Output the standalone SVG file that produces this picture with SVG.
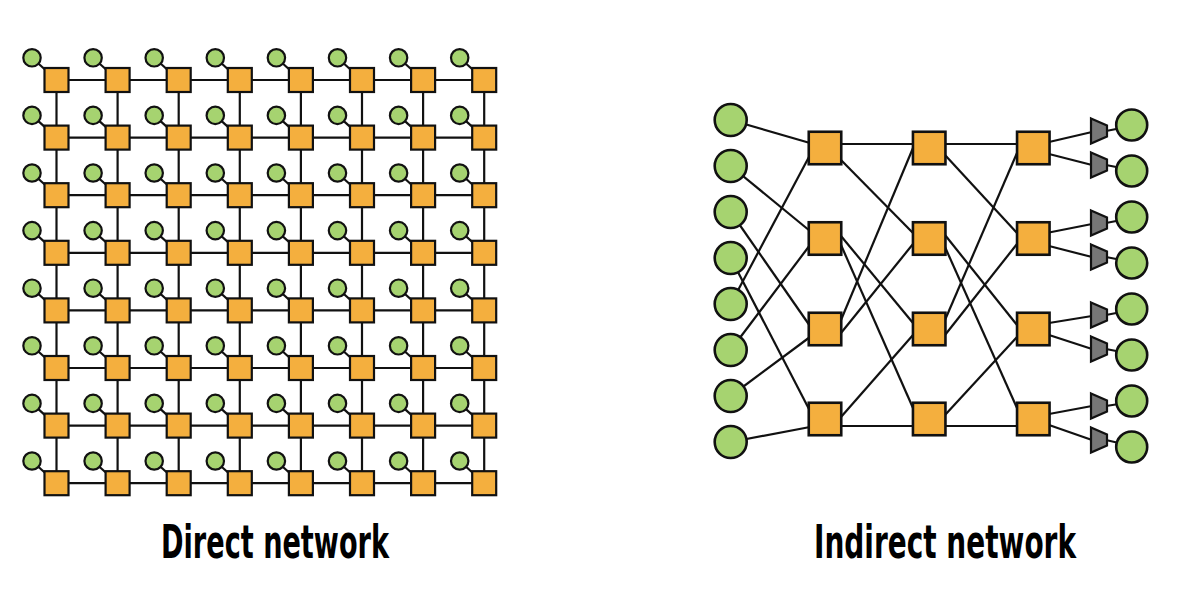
<svg xmlns="http://www.w3.org/2000/svg" xmlns:xlink="http://www.w3.org/1999/xlink" width="1188" height="596" viewBox="0 0 1188 596">
<style>
.ln{stroke:#111;stroke-width:2.2;fill:none}
.sq{fill:#F4AF3E;stroke:#111;stroke-width:2.2}
.pc{fill:#A6D370;stroke:#111;stroke-width:2.2}
.sw{fill:#F4AF3E;stroke:#111;stroke-width:2.6}
.ci{fill:#A6D370;stroke:#111;stroke-width:2.6}
.tr{fill:#777;stroke:#111;stroke-width:2.2}
.lbl{font-family:"Liberation Sans Narrow","DejaVu Sans Condensed","Liberation Sans",sans-serif;font-weight:bold;font-size:47px;fill:#000}
</style>
<defs>
<g id="dn">
<line class="ln" x1="-24.5" y1="-22.2" x2="0" y2="0"/>
<circle class="pc" cx="-24.5" cy="-22.2" r="8.7"/>
<rect class="sq" x="-12" y="-12" width="24" height="24"/>
</g>
</defs>
<rect width="1188" height="596" fill="#fff"/>

<g id="connectors">
<g id="direct-links">
<line class="ln" x1="56.5" y1="80" x2="484.2" y2="80"/>
<line class="ln" x1="56.5" y1="137.6" x2="484.2" y2="137.6"/>
<line class="ln" x1="56.5" y1="195.2" x2="484.2" y2="195.2"/>
<line class="ln" x1="56.5" y1="252.8" x2="484.2" y2="252.8"/>
<line class="ln" x1="56.5" y1="310.4" x2="484.2" y2="310.4"/>
<line class="ln" x1="56.5" y1="368" x2="484.2" y2="368"/>
<line class="ln" x1="56.5" y1="425.6" x2="484.2" y2="425.6"/>
<line class="ln" x1="56.5" y1="483.2" x2="484.2" y2="483.2"/>
<line class="ln" x1="56.5" y1="80" x2="56.5" y2="483.2"/>
<line class="ln" x1="117.6" y1="80" x2="117.6" y2="483.2"/>
<line class="ln" x1="178.7" y1="80" x2="178.7" y2="483.2"/>
<line class="ln" x1="239.8" y1="80" x2="239.8" y2="483.2"/>
<line class="ln" x1="300.9" y1="80" x2="300.9" y2="483.2"/>
<line class="ln" x1="362" y1="80" x2="362" y2="483.2"/>
<line class="ln" x1="423.1" y1="80" x2="423.1" y2="483.2"/>
<line class="ln" x1="484.2" y1="80" x2="484.2" y2="483.2"/>
</g>
<g id="indirect-links">
<line class="ln" x1="730.7" y1="120" x2="810" y2="143"/>
<line class="ln" x1="730.7" y1="166" x2="810" y2="231"/>
<line class="ln" x1="730.7" y1="212" x2="810" y2="326"/>
<line class="ln" x1="730.7" y1="258" x2="810" y2="411"/>
<line class="ln" x1="730.7" y1="304" x2="810" y2="155"/>
<line class="ln" x1="730.7" y1="350" x2="810" y2="245"/>
<line class="ln" x1="730.7" y1="396" x2="810" y2="337"/>
<line class="ln" x1="730.7" y1="442" x2="810" y2="427"/>

<line class="ln" x1="841" y1="144" x2="913" y2="144"/>
<line class="ln" x1="841" y1="160" x2="913" y2="233"/>
<line class="ln" x1="841" y1="320" x2="913" y2="148"/>
<line class="ln" x1="841" y1="333" x2="913" y2="244"/>
<line class="ln" x1="841" y1="236" x2="913" y2="323"/>
<line class="ln" x1="841" y1="245" x2="913" y2="408"/>
<line class="ln" x1="841" y1="417" x2="913" y2="335"/>
<line class="ln" x1="841" y1="426" x2="913" y2="426"/>

<line class="ln" x1="945" y1="144" x2="1017" y2="144"/>
<line class="ln" x1="945" y1="155" x2="1017" y2="233"/>
<line class="ln" x1="945" y1="320" x2="1017" y2="153"/>
<line class="ln" x1="945" y1="335" x2="1017" y2="244"/>
<line class="ln" x1="945" y1="235" x2="1017" y2="325"/>
<line class="ln" x1="945" y1="247" x2="1017" y2="408"/>
<line class="ln" x1="945" y1="415" x2="1017" y2="337"/>
<line class="ln" x1="945" y1="426" x2="1017" y2="426"/>

<line class="ln" x1="1049" y1="142" x2="1092" y2="132"/>
<line class="ln" x1="1049" y1="154" x2="1092" y2="165"/>
<line class="ln" x1="1049" y1="232.5" x2="1092" y2="224"/>
<line class="ln" x1="1049" y1="246" x2="1092" y2="257"/>
<line class="ln" x1="1049" y1="323" x2="1092" y2="316"/>
<line class="ln" x1="1049" y1="335" x2="1092" y2="349"/>
<line class="ln" x1="1049" y1="414" x2="1092" y2="406"/>
<line class="ln" x1="1049" y1="425" x2="1092" y2="440"/>

<line class="ln" x1="1106" y1="131" x2="1131.7" y2="126"/>
<line class="ln" x1="1106" y1="165" x2="1131.7" y2="170"/>
<line class="ln" x1="1106" y1="223" x2="1131.7" y2="218"/>
<line class="ln" x1="1106" y1="257" x2="1131.7" y2="262"/>
<line class="ln" x1="1106" y1="315" x2="1131.7" y2="310"/>
<line class="ln" x1="1106" y1="349" x2="1131.7" y2="354"/>
<line class="ln" x1="1106" y1="406" x2="1131.7" y2="402"/>
<line class="ln" x1="1106" y1="440" x2="1131.7" y2="446"/>
</g>
</g>

<g id="direct-nodes">
<g id="d-0-0"><use xlink:href="#dn" transform="translate(56.5,80)"/></g>
<g id="d-0-1"><use xlink:href="#dn" transform="translate(117.6,80)"/></g>
<g id="d-0-2"><use xlink:href="#dn" transform="translate(178.7,80)"/></g>
<g id="d-0-3"><use xlink:href="#dn" transform="translate(239.8,80)"/></g>
<g id="d-0-4"><use xlink:href="#dn" transform="translate(300.9,80)"/></g>
<g id="d-0-5"><use xlink:href="#dn" transform="translate(362,80)"/></g>
<g id="d-0-6"><use xlink:href="#dn" transform="translate(423.1,80)"/></g>
<g id="d-0-7"><use xlink:href="#dn" transform="translate(484.2,80)"/></g>
<g id="d-1-0"><use xlink:href="#dn" transform="translate(56.5,137.6)"/></g>
<g id="d-1-1"><use xlink:href="#dn" transform="translate(117.6,137.6)"/></g>
<g id="d-1-2"><use xlink:href="#dn" transform="translate(178.7,137.6)"/></g>
<g id="d-1-3"><use xlink:href="#dn" transform="translate(239.8,137.6)"/></g>
<g id="d-1-4"><use xlink:href="#dn" transform="translate(300.9,137.6)"/></g>
<g id="d-1-5"><use xlink:href="#dn" transform="translate(362,137.6)"/></g>
<g id="d-1-6"><use xlink:href="#dn" transform="translate(423.1,137.6)"/></g>
<g id="d-1-7"><use xlink:href="#dn" transform="translate(484.2,137.6)"/></g>
<g id="d-2-0"><use xlink:href="#dn" transform="translate(56.5,195.2)"/></g>
<g id="d-2-1"><use xlink:href="#dn" transform="translate(117.6,195.2)"/></g>
<g id="d-2-2"><use xlink:href="#dn" transform="translate(178.7,195.2)"/></g>
<g id="d-2-3"><use xlink:href="#dn" transform="translate(239.8,195.2)"/></g>
<g id="d-2-4"><use xlink:href="#dn" transform="translate(300.9,195.2)"/></g>
<g id="d-2-5"><use xlink:href="#dn" transform="translate(362,195.2)"/></g>
<g id="d-2-6"><use xlink:href="#dn" transform="translate(423.1,195.2)"/></g>
<g id="d-2-7"><use xlink:href="#dn" transform="translate(484.2,195.2)"/></g>
<g id="d-3-0"><use xlink:href="#dn" transform="translate(56.5,252.8)"/></g>
<g id="d-3-1"><use xlink:href="#dn" transform="translate(117.6,252.8)"/></g>
<g id="d-3-2"><use xlink:href="#dn" transform="translate(178.7,252.8)"/></g>
<g id="d-3-3"><use xlink:href="#dn" transform="translate(239.8,252.8)"/></g>
<g id="d-3-4"><use xlink:href="#dn" transform="translate(300.9,252.8)"/></g>
<g id="d-3-5"><use xlink:href="#dn" transform="translate(362,252.8)"/></g>
<g id="d-3-6"><use xlink:href="#dn" transform="translate(423.1,252.8)"/></g>
<g id="d-3-7"><use xlink:href="#dn" transform="translate(484.2,252.8)"/></g>
<g id="d-4-0"><use xlink:href="#dn" transform="translate(56.5,310.4)"/></g>
<g id="d-4-1"><use xlink:href="#dn" transform="translate(117.6,310.4)"/></g>
<g id="d-4-2"><use xlink:href="#dn" transform="translate(178.7,310.4)"/></g>
<g id="d-4-3"><use xlink:href="#dn" transform="translate(239.8,310.4)"/></g>
<g id="d-4-4"><use xlink:href="#dn" transform="translate(300.9,310.4)"/></g>
<g id="d-4-5"><use xlink:href="#dn" transform="translate(362,310.4)"/></g>
<g id="d-4-6"><use xlink:href="#dn" transform="translate(423.1,310.4)"/></g>
<g id="d-4-7"><use xlink:href="#dn" transform="translate(484.2,310.4)"/></g>
<g id="d-5-0"><use xlink:href="#dn" transform="translate(56.5,368)"/></g>
<g id="d-5-1"><use xlink:href="#dn" transform="translate(117.6,368)"/></g>
<g id="d-5-2"><use xlink:href="#dn" transform="translate(178.7,368)"/></g>
<g id="d-5-3"><use xlink:href="#dn" transform="translate(239.8,368)"/></g>
<g id="d-5-4"><use xlink:href="#dn" transform="translate(300.9,368)"/></g>
<g id="d-5-5"><use xlink:href="#dn" transform="translate(362,368)"/></g>
<g id="d-5-6"><use xlink:href="#dn" transform="translate(423.1,368)"/></g>
<g id="d-5-7"><use xlink:href="#dn" transform="translate(484.2,368)"/></g>
<g id="d-6-0"><use xlink:href="#dn" transform="translate(56.5,425.6)"/></g>
<g id="d-6-1"><use xlink:href="#dn" transform="translate(117.6,425.6)"/></g>
<g id="d-6-2"><use xlink:href="#dn" transform="translate(178.7,425.6)"/></g>
<g id="d-6-3"><use xlink:href="#dn" transform="translate(239.8,425.6)"/></g>
<g id="d-6-4"><use xlink:href="#dn" transform="translate(300.9,425.6)"/></g>
<g id="d-6-5"><use xlink:href="#dn" transform="translate(362,425.6)"/></g>
<g id="d-6-6"><use xlink:href="#dn" transform="translate(423.1,425.6)"/></g>
<g id="d-6-7"><use xlink:href="#dn" transform="translate(484.2,425.6)"/></g>
<g id="d-7-0"><use xlink:href="#dn" transform="translate(56.5,483.2)"/></g>
<g id="d-7-1"><use xlink:href="#dn" transform="translate(117.6,483.2)"/></g>
<g id="d-7-2"><use xlink:href="#dn" transform="translate(178.7,483.2)"/></g>
<g id="d-7-3"><use xlink:href="#dn" transform="translate(239.8,483.2)"/></g>
<g id="d-7-4"><use xlink:href="#dn" transform="translate(300.9,483.2)"/></g>
<g id="d-7-5"><use xlink:href="#dn" transform="translate(362,483.2)"/></g>
<g id="d-7-6"><use xlink:href="#dn" transform="translate(423.1,483.2)"/></g>
<g id="d-7-7"><use xlink:href="#dn" transform="translate(484.2,483.2)"/></g>
</g>

<g id="indirect-nodes">
<g id="in-0"><circle class="ci" cx="730.7" cy="120" r="16"/></g>
<g id="in-1"><circle class="ci" cx="730.7" cy="166" r="16"/></g>
<g id="in-2"><circle class="ci" cx="730.7" cy="212" r="16"/></g>
<g id="in-3"><circle class="ci" cx="730.7" cy="258" r="16"/></g>
<g id="in-4"><circle class="ci" cx="730.7" cy="304" r="16"/></g>
<g id="in-5"><circle class="ci" cx="730.7" cy="350" r="16"/></g>
<g id="in-6"><circle class="ci" cx="730.7" cy="396" r="16"/></g>
<g id="in-7"><circle class="ci" cx="730.7" cy="442" r="16"/></g>

<g id="s1-0"><rect class="sw" x="808.75" y="131.75" width="32.5" height="32.5"/></g>
<g id="s1-1"><rect class="sw" x="808.75" y="222.25" width="32.5" height="32.5"/></g>
<g id="s1-2"><rect class="sw" x="808.75" y="312.75" width="32.5" height="32.5"/></g>
<g id="s1-3"><rect class="sw" x="808.75" y="402.75" width="32.5" height="32.5"/></g>
<g id="s2-0"><rect class="sw" x="912.95" y="131.75" width="32.5" height="32.5"/></g>
<g id="s2-1"><rect class="sw" x="912.95" y="222.25" width="32.5" height="32.5"/></g>
<g id="s2-2"><rect class="sw" x="912.95" y="312.75" width="32.5" height="32.5"/></g>
<g id="s2-3"><rect class="sw" x="912.95" y="402.75" width="32.5" height="32.5"/></g>
<g id="s3-0"><rect class="sw" x="1017.05" y="131.75" width="32.5" height="32.5"/></g>
<g id="s3-1"><rect class="sw" x="1017.05" y="222.25" width="32.5" height="32.5"/></g>
<g id="s3-2"><rect class="sw" x="1017.05" y="312.75" width="32.5" height="32.5"/></g>
<g id="s3-3"><rect class="sw" x="1017.05" y="402.75" width="32.5" height="32.5"/></g>

<g id="out-0"><polygon class="tr" points="1091,118.5 1107,125.5 1107,136.5 1091,143.5"/><circle class="ci" cx="1131.7" cy="125" r="15.5"/></g>
<g id="out-1"><polygon class="tr" points="1091,152.5 1107,159.5 1107,170.5 1091,177.5"/><circle class="ci" cx="1131.7" cy="171" r="15.5"/></g>
<g id="out-2"><polygon class="tr" points="1091,210.5 1107,217.5 1107,228.5 1091,235.5"/><circle class="ci" cx="1131.7" cy="217" r="15.5"/></g>
<g id="out-3"><polygon class="tr" points="1091,244.5 1107,251.5 1107,262.5 1091,269.5"/><circle class="ci" cx="1131.7" cy="263" r="15.5"/></g>
<g id="out-4"><polygon class="tr" points="1091,302.5 1107,309.5 1107,320.5 1091,327.5"/><circle class="ci" cx="1131.7" cy="309" r="15.5"/></g>
<g id="out-5"><polygon class="tr" points="1091,336.5 1107,343.5 1107,354.5 1091,361.5"/><circle class="ci" cx="1131.7" cy="355" r="15.5"/></g>
<g id="out-6"><polygon class="tr" points="1091,393.5 1107,400.5 1107,411.5 1091,418.5"/><circle class="ci" cx="1131.7" cy="401" r="15.5"/></g>
<g id="out-7"><polygon class="tr" points="1091,427.5 1107,434.5 1107,445.5 1091,452.5"/><circle class="ci" cx="1131.7" cy="447" r="15.5"/></g>
</g>

<text class="lbl" x="161" y="558" textLength="228" lengthAdjust="spacingAndGlyphs">Direct network</text>
<text class="lbl" x="814" y="558" textLength="262" lengthAdjust="spacingAndGlyphs">Indirect network</text>
</svg>
